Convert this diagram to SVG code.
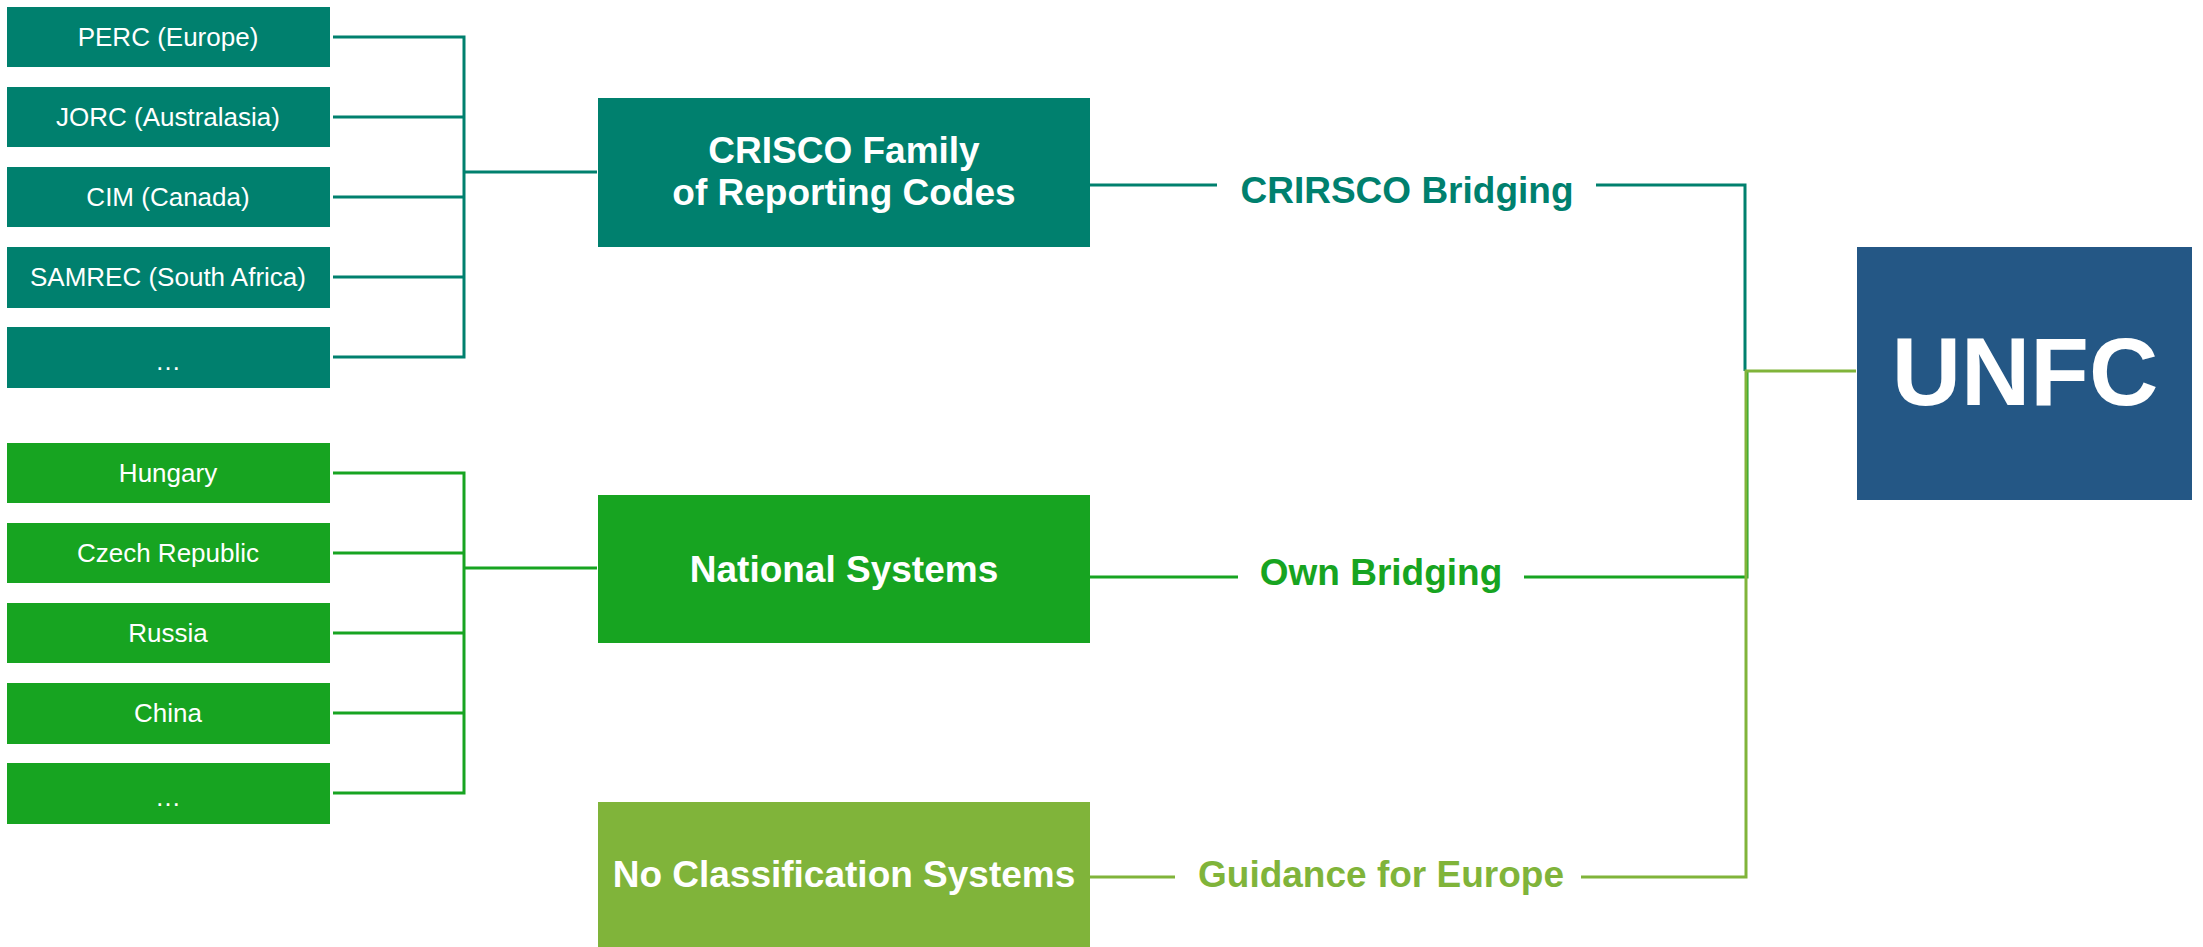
<svg xmlns="http://www.w3.org/2000/svg" width="2203" height="947" viewBox="0 0 2203 947">
<style>
.teal{fill:#00806E}
.green{fill:#17A421}
.lgreen{fill:#80B43A}
.blue{fill:#245785}
.sm{font-family:"Liberation Sans",Arial,sans-serif;font-size:26px;fill:#fff;text-anchor:middle}
.big{font-family:"Liberation Sans",Arial,sans-serif;font-size:37px;font-weight:bold;fill:#fff;text-anchor:middle}
.lbl{font-family:"Liberation Sans",Arial,sans-serif;font-size:37px;font-weight:bold;text-anchor:middle}
.ct{stroke:#00806E;stroke-width:3;fill:none}
.cg{stroke:#17A421;stroke-width:3;fill:none}
.cl{stroke:#80B43A;stroke-width:3;fill:none}
</style>
<rect width="2203" height="947" fill="#fff"/>
<g id="connectors">
<path class="ct" d="M333 37H464V357H333M333 117H464M333 197H464M333 277H464M464 172H597"/>
<path class="cg" d="M333 473H464V793H333M333 553H464M333 633H464M333 713H464M464 568H597"/>
<path class="ct" d="M1090 185H1217M1596 185H1745V371"/>
<path class="cg" d="M1090 577H1238M1524 577H1747V371"/>
<path class="cl" d="M1090 877H1175M1581 877H1746V371H1856"/>
</g>
<g id="perc"><rect class="teal" x="7" y="7" width="323" height="60"/><text class="sm" x="168" y="46">PERC (Europe)</text></g>
<g id="jorc"><rect class="teal" x="7" y="87" width="323" height="60"/><text class="sm" x="168" y="126">JORC (Australasia)</text></g>
<g id="cim"><rect class="teal" x="7" y="167" width="323" height="60"/><text class="sm" x="168" y="206">CIM (Canada)</text></g>
<g id="samrec"><rect class="teal" x="7" y="247" width="323" height="61"/><text class="sm" x="168" y="286">SAMREC (South Africa)</text></g>
<g id="teal-more"><rect class="teal" x="7" y="327" width="323" height="61"/><text class="sm" x="168" y="370">…</text></g>
<g id="hungary"><rect class="green" x="7" y="443" width="323" height="60"/><text class="sm" x="168" y="482">Hungary</text></g>
<g id="czech"><rect class="green" x="7" y="523" width="323" height="60"/><text class="sm" x="168" y="562">Czech Republic</text></g>
<g id="russia"><rect class="green" x="7" y="603" width="323" height="60"/><text class="sm" x="168" y="642">Russia</text></g>
<g id="china"><rect class="green" x="7" y="683" width="323" height="61"/><text class="sm" x="168" y="722">China</text></g>
<g id="green-more"><rect class="green" x="7" y="763" width="323" height="61"/><text class="sm" x="168" y="806">…</text></g>
<g id="crisco"><rect class="teal" x="598" y="98" width="492" height="149"/><text class="big" x="844" y="163">CRISCO Family</text><text class="big" x="844" y="205">of Reporting Codes</text></g>
<g id="national"><rect class="green" x="598" y="495" width="492" height="148"/><text class="big" x="844" y="582">National Systems</text></g>
<g id="noclass"><rect class="lgreen" x="598" y="802" width="492" height="145"/><text class="big" x="844" y="887">No Classification Systems</text></g>
<g id="unfc"><rect class="blue" x="1857" y="247" width="335" height="253"/><text class="big" x="2025" y="405" style="font-size:96px">UNFC</text></g>
<g id="labels">
<text class="lbl" x="1407" y="203" fill="#00806E">CRIRSCO Bridging</text>
<text class="lbl" x="1381" y="585" fill="#17A421">Own Bridging</text>
<text class="lbl" x="1381" y="887" fill="#80B43A">Guidance for Europe</text>
</g>
</svg>
